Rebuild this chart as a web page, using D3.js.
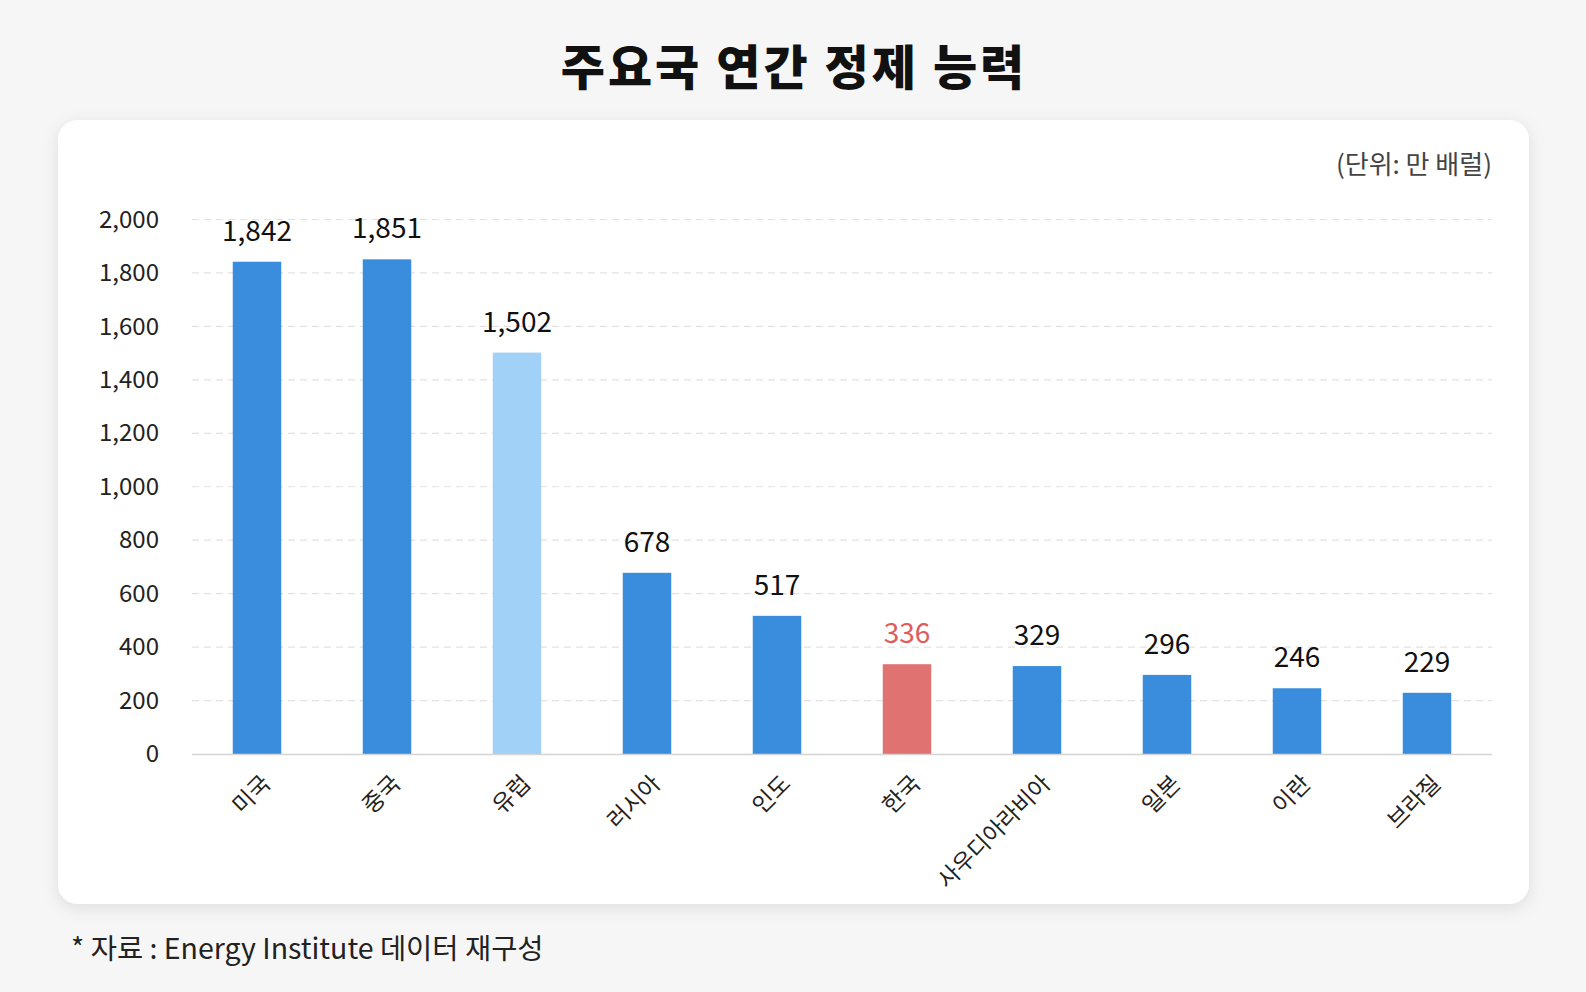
<!DOCTYPE html>
<html><head><meta charset="utf-8">
<script src="https://cdn.jsdelivr.net/npm/d3@7"></script>
<style>
html,body{margin:0;padding:0;background:#f6f6f6;}
svg{display:block;font-family:"Noto Sans CJK KR","Noto Sans",sans-serif;}
</style></head>
<body>
<svg id="c" width="1586" height="992"></svg>
<script>
const categories = ["미국","중국","유럽","러시아","인도","한국","사우디아라비아","일본","이란","브라질"];
const values = [1842,1851,1502,678,517,336,329,296,246,229];
const kinds = ["base","base","europe","base","base","korea","base","base","base","base"];
const yTicks = [0,200,400,600,800,1000,1200,1400,1600,1800,2000];

const colors = {base:"#3a8ddc", europe:"#a2d1f8", korea:"#e07272"};
const labelColors = {base:"#111", europe:"#111", korea:"#e05c5c"};

const svg = d3.select("#c");
const defs = svg.append("defs");
const f = defs.append("filter").attr("id","sh").attr("x","-5%").attr("y","-5%").attr("width","110%").attr("height","115%");
f.append("feDropShadow").attr("dx",0).attr("dy",4).attr("stdDeviation",8).attr("flood-color","#000").attr("flood-opacity",0.10);

svg.append("rect").attr("x",58).attr("y",120).attr("width",1471).attr("height",784).attr("rx",20)
  .attr("fill","#fff").attr("filter","url(#sh)");

svg.append("text").attr("x",794).attr("y",85).attr("text-anchor","middle")
  .attr("font-size",48).attr("font-weight",800).attr("letter-spacing",3).attr("fill","#111").text("주요국 연간 정제 능력");

svg.append("text").attr("x",1492).attr("y",174).attr("text-anchor","end")
  .attr("font-size",26).attr("fill","#444").text("(단위: 만 배럴)");

svg.append("text").attr("x",71).attr("y",959)
  .attr("font-size",28.5).attr("fill","#222").text("* 자료 : Energy Institute 데이터 재구성");

const x0 = 192, x1 = 1492, yb = 754, yt = 219.5;
const x = d3.scaleBand().domain(categories).range([x0,x1]).paddingInner(0.627).paddingOuter(0.3135);
const y = d3.scaleLinear().domain([0,2000]).range([yb,yt]);

const g = svg.append("g");
g.selectAll("line.grid").data(yTicks.filter(d=>d>0)).join("line")
  .attr("x1",x0).attr("x2",x1).attr("y1",d=>y(d)).attr("y2",d=>y(d))
  .attr("stroke","#e2e2e2").attr("stroke-width",1.2).attr("stroke-dasharray","7,5");

const yAxis = d3.axisLeft(y).tickValues(yTicks).tickFormat(d3.format(",")).tickSize(0).tickPadding(0);
const ya = g.append("g").attr("transform",`translate(159,0)`).call(yAxis);
ya.select(".domain").remove();
ya.selectAll("text").attr("font-size",24).attr("fill","#222").attr("font-family","'Noto Sans CJK KR','Noto Sans',sans-serif");

g.selectAll("rect.bar").data(categories).join("rect")
  .attr("x",d=>x(d)).attr("width",x.bandwidth())
  .attr("y",(d,i)=>y(values[i])).attr("height",(d,i)=>yb-y(values[i]))
  .attr("fill",(d,i)=>colors[kinds[i]]);

g.append("line").attr("x1",x0).attr("x2",x1).attr("y1",yb+0.5).attr("y2",yb+0.5).attr("stroke","#d4d4d4").attr("stroke-width",1.5);

g.selectAll("text.val").data(categories).join("text")
  .attr("x",d=>x(d)+x.bandwidth()/2).attr("y",(d,i)=>y(values[i])-21)
  .attr("text-anchor","middle").attr("font-size",28).attr("font-weight",400)
  .attr("fill",(d,i)=>labelColors[kinds[i]]).text((d,i)=>d3.format(",")(values[i]));

const xAxis = d3.axisBottom(x).tickSize(0).tickPadding(0);
const xa = g.append("g").attr("transform",`translate(0,${yb})`).call(xAxis);
xa.select(".domain").remove();
xa.selectAll("text").attr("font-size",23).attr("fill","#222")
  .attr("font-family","'Noto Sans CJK KR','Noto Sans',sans-serif")
  .attr("text-anchor","end").attr("dy",0)
  .attr("transform","translate(15,31) rotate(-45)");
</script>
</body></html>
